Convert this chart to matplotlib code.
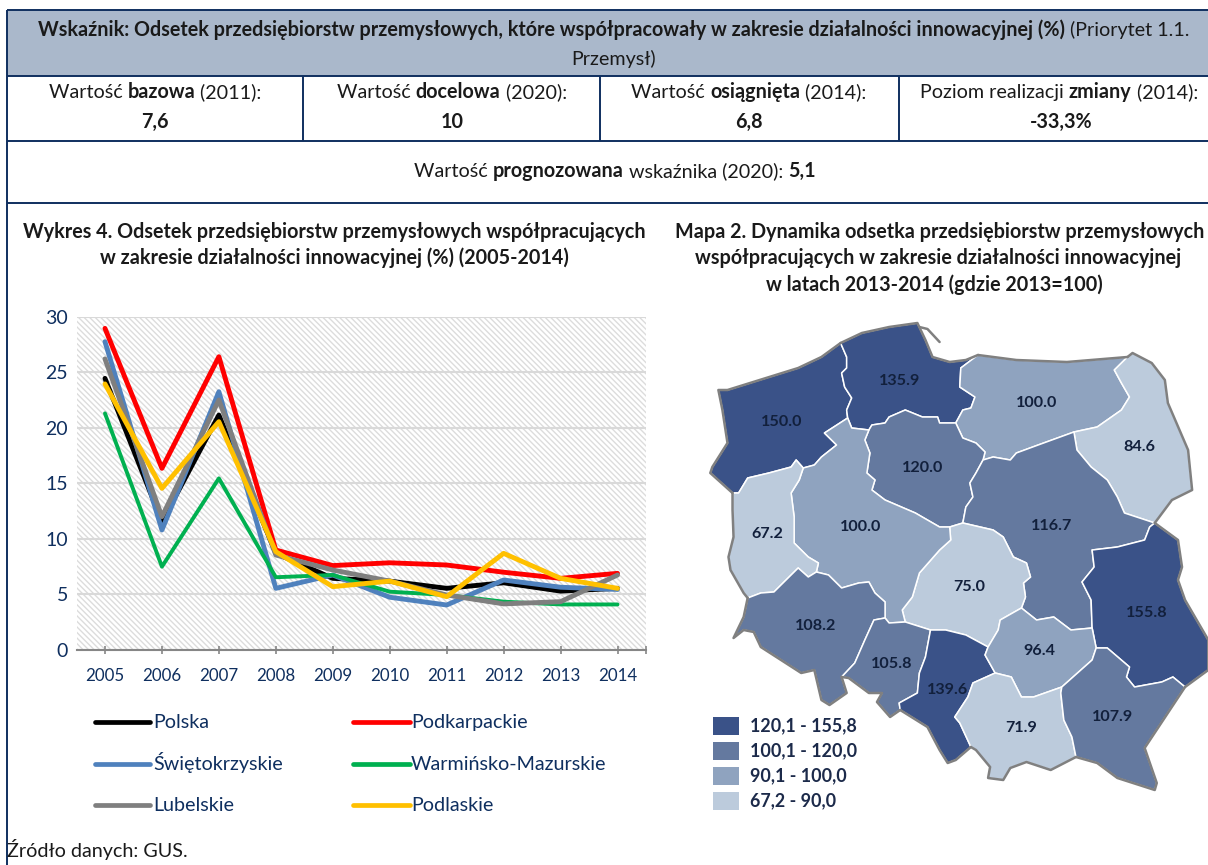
import matplotlib
matplotlib.use("Agg")
import matplotlib.pyplot as plt
from matplotlib.patches import Polygon, Rectangle

plt.rcParams['font.family'] = ['Lato', 'DejaVu Sans']
plt.rcParams['hatch.linewidth'] = 1.0
plt.rcParams['hatch.color'] = '#dcdcdc'

# ---------- chart data ----------
years = [2005, 2006, 2007, 2008, 2009, 2010, 2011, 2012, 2013, 2014]
polska = [24.45, 11.55, 21.15, 8.7, 6.45, 6.2, 5.55, 6.05, 5.3, 5.55]
podkarpackie = [28.95, 16.35, 26.4, 9.0, 7.6, 7.85, 7.65, 7.0, 6.45, 6.9]
swietokrzyskie = [27.75, 10.8, 23.25, 5.55, 6.75, 4.75, 4.05, 6.3, 5.65, 5.45]
warminsko = [21.3, 7.5, 15.45, 6.55, 6.75, 5.25, 4.95, 4.35, 4.1, 4.1]
lubelskie = [26.2, 12.0, 22.5, 8.55, 7.2, 6.2, 4.95, 4.15, 4.35, 6.75]
podlaskie = [23.95, 14.55, 20.55, 8.85, 5.7, 6.2, 4.8, 8.7, 6.45, 5.55]
y_ticks = [0, 5, 10, 15, 20, 25, 30]

series_names = ['Polska', 'Podkarpackie', 'Świętokrzyskie',
                'Warmińsko-Mazurskie', 'Lubelskie', 'Podlaskie']
series_values = [polska, podkarpackie, swietokrzyskie, warminsko, lubelskie, podlaskie]
series_colors = ['#000000', '#ff0000', '#4f81bd', '#00b050', '#7f7f7f', '#ffc000']
series_widths = [3.5, 3.5, 3.5, 2.8, 3.5, 3.5]

# ---------- map data: borders in picture pixels ----------
o_zach = [(839,343),(820,357),(797,368),(727,390),(718,390),(722,410),(727,443),(712,467),(710,473),(732,493)]
i_zach_pom = [(839,343),(845,357),(845,368),(840,373),(843,387),(850,398),(845,410),(846,418)]
i_zach_wlkp = [(846,418),(823,433),(835,445),(820,457),(813,465),(802,468)]
i_zach_lubu = [(802,468),(795,460),(790,467),(768,473),(747,478),(738,493),(732,493)]
o_pom = [(839,343),(860,333),(887,327),(915,323),(923,340),(930,357),(947,362),(963,360),(975,355)]
i_pom_wm = [(975,355),(958,368),(957,387),(972,397),(968,408),(960,410),(953,423)]
i_pom_kuj = [(953,423),(937,423),(935,417),(920,417),(903,410),(887,417),(883,423),(870,425),(867,430)]
i_pom_wlkp = [(867,430),(850,428),(846,418)]
o_wm = [(975,355),(1013,360),(1063,362),(1123,357)]
i_wm_pdl = [(1123,357),(1110,370),(1117,383),(1125,397),(1117,410),(1093,427),(1070,432)]
i_wm_maz = [(1070,432),(1040,443),(1013,453),(1007,460),(990,457),(980,460)]
i_wm_kuj = [(980,460),(982,452),(973,443),(960,438),(953,423)]
o_pdl = [(1123,357),(1128,353),(1147,363),(1160,380),(1163,403),(1183,450),(1187,490),(1167,500),(1150,523)]
i_pdl_maz = [(1150,523),(1120,513),(1113,497),(1103,480),(1087,467),(1073,450),(1070,432)]
i_kuj_maz = [(980,460),(973,473),(967,483),(970,497),(963,507),(960,523)]
i_kuj_lodz = [(960,523),(947,527)]
i_kuj_wlkp = [(947,527),(937,527),(913,513),(883,500),(870,490),(873,480),(865,473),(868,453),(863,440),(867,430)]
i_maz_lub = [(1150,523),(1145,527),(1140,540),(1113,547),(1088,550),(1090,567),(1078,582),(1087,600),(1088,628)]
i_maz_swk = [(1088,628),(1067,630),(1050,617),(1033,620),(1018,608)]
i_maz_lodz = [(1018,608),(1022,597),(1020,583),(1027,577),(1023,563),(1010,557),(1000,537),(990,530),(960,523)]
o_lub = [(1150,523),(1173,540),(1177,567),(1173,580),(1180,600),(1203,640),(1203,670),(1180,687)]
i_lub_podk = [(1180,687),(1168,677),(1157,682),(1130,687),(1122,677),(1125,667),(1103,648),(1092,648)]
i_lub_swk = [(1092,648),(1088,628)]
i_lodz_swk = [(1018,608),(997,620),(995,630),(985,647)]
i_lodz_sl = [(985,647),(963,635),(943,630),(928,630)]
i_lodz_op = [(928,630),(903,622)]
i_lodz_wlkp = [(903,622),(900,610),(910,597),(917,573),(937,550),(948,540),(947,527)]
i_wlkp_lubu = [(802,468),(798,480),(790,493),(793,517),(793,543),(807,557),(817,563),(815,572)]
i_wlkp_dol = [(815,572),(827,575),(840,588),(857,583),(867,582),(873,593),(883,602),(883,618)]
i_wlkp_op = [(883,618),(887,623),(903,622)]
o_lubu = [(732,493),(732,510),(733,537),(728,557),(730,570),(743,593),(747,598)]
i_lubu_dol = [(747,598),(760,593),(773,592),(797,568),(807,577),(815,572)]
o_dol = [(747,598),(743,617),(733,638),(743,630),(753,632),(760,647),(780,660),(800,673),(813,670),(820,700),(828,705),(845,693),(840,677)]
i_dol_op = [(840,677),(853,663),(863,640),(872,620),(883,618)]
o_op = [(840,677),(847,678),(867,693),(880,693),(875,702),(888,717),(898,710)]
i_op_sl = [(898,710),(897,703),(915,693),(917,673),(923,657),(928,630)]
o_sl = [(898,710),(925,727),(937,750),(945,763),(953,760),(968,747)]
i_sl_mal = [(968,747),(957,723),(952,717),(965,697),(970,683),(992,673)]
i_sl_swk = [(992,673),(982,655),(985,647)]
i_swk_podk = [(1092,648),(1088,660),(1058,687)]
i_swk_mal = [(1058,687),(1030,697),(1018,697),(1008,677),(992,673)]
o_mal = [(968,747),(973,750),(987,767),(985,778),(1000,780),(1007,768),(1023,762),(1047,770),(1072,757)]
i_mal_podk = [(1072,757),(1068,737),(1060,720),(1057,693),(1058,687)]
o_podk = [(1180,687),(1140,748),(1152,783),(1150,790),(1113,778),(1093,763),(1072,757)]
hel = [(917,327),(925,329),(937,342)]

def rev(a):
    return a[::-1]

C4, C3, C2, C1 = '#3a5288', '#64799f', '#8fa3bf', '#bccbdc'
regions = [
    ([o_zach, rev(i_zach_lubu), rev(i_zach_wlkp), rev(i_zach_pom)], C4),
    ([o_pom, i_pom_wm, i_pom_kuj, i_pom_wlkp, rev(i_zach_pom)], C4),
    ([o_wm, i_wm_pdl, i_wm_maz, i_wm_kuj, rev(i_pom_wm)], C2),
    ([o_pdl, i_pdl_maz, rev(i_wm_pdl)], C1),
    ([rev(i_pom_kuj), rev(i_wm_kuj), i_kuj_maz, i_kuj_lodz, i_kuj_wlkp], C3),
    ([rev(i_wm_maz), rev(i_pdl_maz), i_maz_lub, i_maz_swk, i_maz_lodz, rev(i_kuj_maz)], C3),
    ([o_lub, i_lub_podk, i_lub_swk, rev(i_maz_lub)], C4),
    ([rev(i_maz_lodz), i_lodz_swk, i_lodz_sl, i_lodz_op, i_lodz_wlkp, rev(i_kuj_lodz)], C1),
    ([i_zach_wlkp, i_wlkp_lubu, i_wlkp_dol, i_wlkp_op, i_lodz_wlkp, i_kuj_wlkp, i_pom_wlkp], C2),
    ([o_lubu, i_lubu_dol, rev(i_wlkp_lubu), i_zach_lubu], C1),
    ([o_dol, i_dol_op, rev(i_wlkp_dol), rev(i_lubu_dol)], C3),
    ([o_op, i_op_sl, i_lodz_op, rev(i_wlkp_op), rev(i_dol_op)], C3),
    ([rev(i_op_sl), o_sl, i_sl_mal, i_sl_swk, i_lodz_sl], C4),
    ([rev(i_maz_swk), rev(i_lub_swk), i_swk_podk, i_swk_mal, i_sl_swk, rev(i_lodz_swk)], C2),
    ([rev(i_sl_mal), o_mal, i_mal_podk, i_swk_mal], C1),
    ([rev(i_lub_podk), o_podk, i_mal_podk, rev(i_swk_podk)], C3),
]
coast = [o_zach, o_pom, o_wm, o_pdl, o_lub, o_lubu, o_dol, o_op, o_sl, o_mal, o_podk, hel]
map_labels = ['135.9', '100.0', '150.0', '84.6', '120.0', '116.7', '67.2', '100.0',
              '75.0', '155.8', '108.2', '96.4', '105.8', '139.6', '107.9', '71.9']
map_label_xy = [(900,381),(1037,403),(782,422),(1139,447),(923,468),(1052,526),(767,534),(861,527),
                (969,587),(1147,613),(816,626),(1039,651),(892,664),(948,690),(1113,717),(1021,728)]
map_legend_labels = ['120,1 - 155,8', '100,1 - 120,0', '90,1 - 100,0', '67,2 - 90,0']
map_legend_colors = [C4, C3, C2, C1]

# ---------- figure ----------
W, H = 1208, 865
fig = plt.figure(figsize=(W/100, H/100), dpi=100, facecolor='white')
bg = fig.add_axes([0, 0, 1, 1], zorder=0)
bg.set_xlim(0, W); bg.set_ylim(H, 0); bg.axis('off')
NAVY = '#0f2f5f'
TXT = '#1a1a1a'
BASE = 14.2

bg.add_patch(Rectangle((7, 10), W-7, 66, facecolor='#aab8cb', edgecolor='none'))
for y in (10, 76, 141, 203):
    bg.plot([7, W], [y, y], color=NAVY, lw=1.4, solid_capstyle='butt')
bg.plot([7, 7], [10, H], color=NAVY, lw=1.4, solid_capstyle='butt')
for x in (303, 600, 899):
    bg.plot([x, x], [76, 141], color=NAVY, lw=1.4, solid_capstyle='butt')

renderer = fig.canvas.get_renderer()
def mixed(cx, y, runs, size=BASE, color=TXT):
    # y is the text baseline, so every run of a line sits on the same level
    items = [bg.text(0, y, t, fontsize=size, color=color, va='baseline', ha='left',
                     fontweight='bold' if b else 'normal') for t, b in runs]
    widths = []
    for it, (t, b) in zip(items, runs):
        g = bg.text(0, 0, '|' + t + '|', fontsize=size, fontweight='bold' if b else 'normal')
        g0 = bg.text(0, 0, '||', fontsize=size, fontweight='bold' if b else 'normal')
        widths.append(g.get_window_extent(renderer).width - g0.get_window_extent(renderer).width)
        g.remove(); g0.remove()
    x = cx - sum(widths)/2
    for it, w in zip(items, widths):
        it.set_x(x)
        x += w

mixed(614, 36, [('Wskaźnik: Odsetek przedsiębiorstw przemysłowych, które współpracowały w zakresie działalności innowacyjnej (%)', True),
                (' (Priorytet 1.1.', False)])
mixed(614, 65, [('Przemysł)', False)])
mixed(155, 98, [('Wartość ', False), ('bazowa', True), (' (2011):', False)])
mixed(155, 128, [('7,6', True)])
mixed(452, 98, [('Wartość ', False), ('docelowa', True), (' (2020):', False)])
mixed(452, 128, [('10', True)])
mixed(749, 98, [('Wartość ', False), ('osiągnięta', True), (' (2014):', False)])
mixed(749, 128, [('6,8', True)])
mixed(1059, 98, [('Poziom realizacji ', False), ('zmiany', True), (' (2014):', False)])
mixed(1061, 128, [('-33,3%', True)])
mixed(615, 177, [('Wartość ', False), ('prognozowana', True), (' wskaźnika (2020): ', False), ('5,1', True)])

mixed(334, 238, [('Wykres 4. Odsetek przedsiębiorstw przemysłowych współpracujących', True)])
mixed(334, 264, [('w zakresie działalności innowacyjnej (%) (2005-2014)', True)])
mixed(940, 238, [('Mapa 2. Dynamika odsetka przedsiębiorstw przemysłowych', True)])
mixed(938, 264, [('współpracujących w zakresie działalności innowacyjnej', True)])
mixed(934, 291, [('w latach 2013-2014 (gdzie 2013=100)', True)])
bg.text(7, 857, 'Źródło danych: GUS.', fontsize=BASE, color=TXT, va='baseline', ha='left')

# map
STRETCH = 1.0101
def sx(p):
    return (680 + (p[0]-680)*STRETCH, p[1])
for arcs, col in regions:
    pts = [sx(p) for a in arcs for p in a]
    bg.add_patch(Polygon(pts, closed=True, facecolor=col, edgecolor='white', lw=1.1, joinstyle='round', clip_on=True))
for a in coast:
    pts = [sx(p) for p in a]
    bg.plot([p[0] for p in pts], [p[1] for p in pts], color='#808080', lw=1.8, solid_joinstyle='round', solid_capstyle='round')
for t, (x, y) in zip(map_labels, map_label_xy):
    bg.text(x, y, t, fontsize=11.6, fontweight='bold', color='#12203c', ha='center', va='center')
for i, (t, c) in enumerate(zip(map_legend_labels, map_legend_colors)):
    y = 726 + i*25
    bg.add_patch(Rectangle((713, y-9), 26, 18, facecolor=c, edgecolor='none'))
    bg.text(750, y, t, fontsize=12.9, fontweight='bold', color='#1c2a4a', ha='left', va='center')

# line chart
ax = fig.add_axes([76.5/W, 1-650/H, (646-76.5)/W, (650-316.7)/H], zorder=2)
ax.set_xlim(-0.5, 9.5)
ax.set_ylim(0, 30)
ax.set_facecolor('white')
ax.add_patch(Rectangle((0, 0), 1, 1, transform=ax.transAxes, facecolor='white',
                       edgecolor='#dcdcdc', hatch='\\\\\\\\\\\\', lw=0, zorder=0))
xs = list(range(len(years)))
for name, vals, col, lw in zip(series_names, series_values, series_colors, series_widths):
    ax.plot(xs, vals, color=col, lw=lw, label=name, solid_joinstyle='round', solid_capstyle='round', zorder=3, clip_on=False)
ax.set_xticks(xs)
ax.set_xticklabels([str(y) for y in years])
ax.set_xticks([9.5], minor=True)
ax.set_yticks(y_ticks)
ax.yaxis.grid(True, color='#d9d9d9', lw=1.5)
ax.set_axisbelow(True)
for s in ('top', 'left', 'right'):
    ax.spines[s].set_visible(False)
ax.spines['bottom'].set_color('#868686')
ax.spines['bottom'].set_linewidth(1.5)
ax.tick_params(axis='x', which='both', direction='inout', length=6, width=1.2, color='#868686',
               labelsize=12.2, labelcolor=NAVY, pad=10)
ax.tick_params(axis='y', length=0, labelsize=14, labelcolor=NAVY, pad=6)

# legend entries laid out on the reference's grid
legend_cols = [(95, 150, 153), (353, 410, 411)]
legend_rows = [722, 764, 805]
for i, (name, col, lw) in enumerate(zip(series_names, series_colors, series_widths)):
    x0, x1, xt = legend_cols[i % 2]
    y = legend_rows[i // 2]
    bg.plot([x0, x1], [y, y], color=col, lw=3.4, solid_capstyle='round')
    bg.text(xt, y + 6, name, fontsize=14.2, color=NAVY, ha='left', va='baseline')

fig.savefig('out.png', dpi=100, facecolor='white')
